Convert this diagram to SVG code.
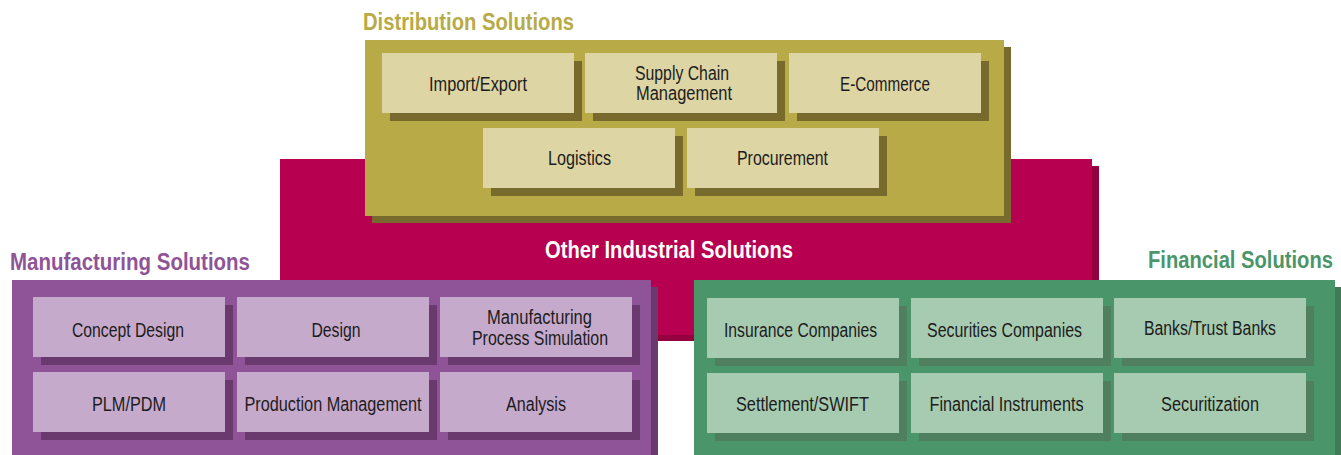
<svg xmlns="http://www.w3.org/2000/svg" width="1341" height="455" viewBox="0 0 1341 455">
<style>
.lbl{font-family:"Liberation Sans",Arial,sans-serif;font-size:20px;fill:#1c1c1c;text-anchor:middle}
.ttl{font-family:"Liberation Sans",Arial,sans-serif;font-size:23.5px;font-weight:bold}
.dp{fill:#b8aa46}.ds{fill:#786a2c}.db{fill:#ded5a4}
.op{fill:#b70050}.os{fill:#95003f}
.mp{fill:#8f5397}.ms{fill:#6a396e}.mb{fill:#c6aacc}
.fp{fill:#4a966a}.fs{fill:#3e7b56}.fb{fill:#a7cbb1}.fbs{fill:#4f7f5f}
</style>
<rect width="1341" height="455" fill="#ffffff"/>

<g id="other">
<rect class="os" x="287" y="166" width="812" height="175"/>
<rect class="op" x="280" y="159" width="812" height="176"/>
<text class="ttl" x="545" y="258" textLength="248" lengthAdjust="spacingAndGlyphs" fill="#ffffff">Other Industrial Solutions</text>
</g>

<g id="distribution">
<text class="ttl" x="363" y="30" textLength="211" lengthAdjust="spacingAndGlyphs" fill="#b8aa46">Distribution Solutions</text>
<rect class="ds" x="372" y="47" width="639" height="176"/>
<rect class="dp" x="365" y="40" width="639" height="176"/>
<g id="import-export"><rect class="ds" x="390" y="61" width="192" height="60"/><rect class="db" x="382" y="53" width="192" height="60"/><text class="lbl" x="478" y="91" textLength="98" lengthAdjust="spacingAndGlyphs">Import/Export</text></g>
<g id="supply-chain"><rect class="ds" x="593" y="61" width="192" height="60"/><rect class="db" x="585" y="53" width="192" height="60"/><text class="lbl" x="682" y="80" textLength="94" lengthAdjust="spacingAndGlyphs">Supply Chain</text><text class="lbl" x="684" y="100" textLength="96" lengthAdjust="spacingAndGlyphs">Management</text></g>
<g id="e-commerce"><rect class="ds" x="797" y="61" width="192" height="60"/><rect class="db" x="789" y="53" width="192" height="60"/><text class="lbl" x="885" y="91" textLength="90" lengthAdjust="spacingAndGlyphs">E-Commerce</text></g>
<g id="logistics"><rect class="ds" x="491" y="136" width="192" height="60"/><rect class="db" x="483" y="128" width="192" height="60"/><text class="lbl" x="579.5" y="165" textLength="63" lengthAdjust="spacingAndGlyphs">Logistics</text></g>
<g id="procurement"><rect class="ds" x="695" y="136" width="192" height="60"/><rect class="db" x="687" y="128" width="192" height="60"/><text class="lbl" x="782.5" y="165" textLength="91" lengthAdjust="spacingAndGlyphs">Procurement</text></g>
</g>

<g id="manufacturing">
<text class="ttl" x="10" y="270" textLength="240" lengthAdjust="spacingAndGlyphs" fill="#8f5397">Manufacturing Solutions</text>
<rect class="ms" x="19" y="287" width="639" height="175"/>
<rect class="mp" x="12" y="280" width="639" height="175"/>
<g id="concept-design"><rect class="ms" x="41" y="305" width="192" height="60"/><rect class="mb" x="33" y="297" width="192" height="60"/><text class="lbl" x="128" y="337" textLength="112" lengthAdjust="spacingAndGlyphs">Concept Design</text></g>
<g id="design"><rect class="ms" x="245" y="305" width="192" height="60"/><rect class="mb" x="237" y="297" width="192" height="60"/><text class="lbl" x="336" y="337" textLength="49" lengthAdjust="spacingAndGlyphs">Design</text></g>
<g id="mps"><rect class="ms" x="448" y="305" width="192" height="60"/><rect class="mb" x="440" y="297" width="192" height="60"/><text class="lbl" x="539.5" y="324" textLength="105" lengthAdjust="spacingAndGlyphs">Manufacturing</text><text class="lbl" x="540" y="345" textLength="136" lengthAdjust="spacingAndGlyphs">Process Simulation</text></g>
<g id="plm-pdm"><rect class="ms" x="41" y="380" width="192" height="60"/><rect class="mb" x="33" y="372" width="192" height="60"/><text class="lbl" x="129" y="411" textLength="74" lengthAdjust="spacingAndGlyphs">PLM/PDM</text></g>
<g id="production-management"><rect class="ms" x="245" y="380" width="192" height="60"/><rect class="mb" x="237" y="372" width="192" height="60"/><text class="lbl" x="333" y="411" textLength="177" lengthAdjust="spacingAndGlyphs">Production Management</text></g>
<g id="analysis"><rect class="ms" x="448" y="380" width="192" height="60"/><rect class="mb" x="440" y="372" width="192" height="60"/><text class="lbl" x="536" y="411" textLength="60" lengthAdjust="spacingAndGlyphs">Analysis</text></g>
</g>

<g id="financial">
<text class="ttl" x="1148" y="268" textLength="185" lengthAdjust="spacingAndGlyphs" fill="#4a966a">Financial Solutions</text>
<rect class="fs" x="701" y="287" width="640" height="175"/>
<rect class="fp" x="694" y="280" width="641" height="175"/>
<g id="insurance"><rect class="fbs" x="715" y="306" width="192" height="60"/><rect class="fb" x="707" y="298" width="192" height="60"/><text class="lbl" x="800.5" y="337" textLength="153" lengthAdjust="spacingAndGlyphs">Insurance Companies</text></g>
<g id="securities"><rect class="fbs" x="919" y="306" width="192" height="60"/><rect class="fb" x="911" y="298" width="192" height="60"/><text class="lbl" x="1004.5" y="337" textLength="155" lengthAdjust="spacingAndGlyphs">Securities Companies</text></g>
<g id="banks"><rect class="fbs" x="1122" y="306" width="192" height="60"/><rect class="fb" x="1114" y="298" width="192" height="60"/><text class="lbl" x="1210" y="335" textLength="132" lengthAdjust="spacingAndGlyphs">Banks/Trust Banks</text></g>
<g id="settlement"><rect class="fbs" x="715" y="381" width="192" height="60"/><rect class="fb" x="707" y="373" width="192" height="60"/><text class="lbl" x="802.5" y="411" textLength="133" lengthAdjust="spacingAndGlyphs">Settlement/SWIFT</text></g>
<g id="instruments"><rect class="fbs" x="919" y="381" width="192" height="60"/><rect class="fb" x="911" y="373" width="192" height="60"/><text class="lbl" x="1006.5" y="411" textLength="154" lengthAdjust="spacingAndGlyphs">Financial Instruments</text></g>
<g id="securitization"><rect class="fbs" x="1122" y="381" width="192" height="60"/><rect class="fb" x="1114" y="373" width="192" height="60"/><text class="lbl" x="1210" y="411" textLength="98" lengthAdjust="spacingAndGlyphs">Securitization</text></g>
</g>
</svg>
